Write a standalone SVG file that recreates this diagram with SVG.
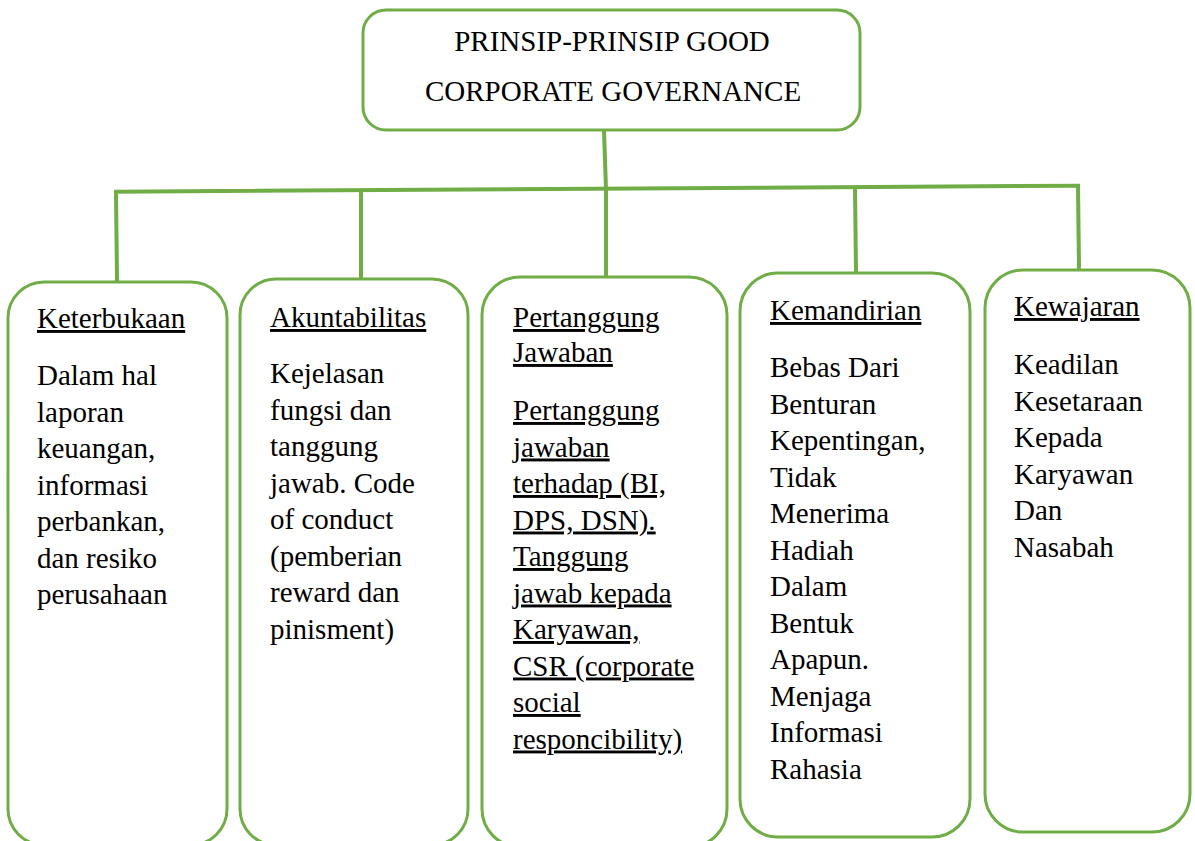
<svg xmlns="http://www.w3.org/2000/svg" width="1195" height="841" viewBox="0 0 1195 841">
  <style>
    .box { fill: #ffffff; stroke: #70AD47; stroke-width: 3; }
    .conn { fill: none; stroke: #70AD47; stroke-width: 4; stroke-linecap: square; }
    text { font-family: "Liberation Serif", "Times New Roman", serif; font-size: 29px; fill: #000000; }
    .u { text-decoration: underline; text-decoration-skip-ink: none; }
    .c { text-anchor: middle; }
  </style>
  <rect width="1195" height="841" fill="#ffffff"/>

  <g id="connectors">
    <path class="conn" d="M604 131 L606 189"/>
    <path class="conn" d="M116 191.7 L1078 185.7"/>
    <path class="conn" d="M116 192 L117 279"/>
    <path class="conn" d="M361 191 L361 278"/>
    <path class="conn" d="M606 189 L606 276"/>
    <path class="conn" d="M855 188 L856 272"/>
    <path class="conn" d="M1078 186 L1079 269"/>
  </g>

  <g id="root">
    <rect class="box" x="363" y="10" width="497" height="120" rx="23" ry="23"/>
    <text class="c" x="612" y="51">PRINSIP-PRINSIP GOOD</text>
    <text class="c" x="613" y="101">CORPORATE GOVERNANCE</text>
  </g>

  <g id="keterbukaan">
    <rect class="box" x="8" y="282" width="219" height="563" rx="36" ry="36"/>
    <text class="u" x="37" y="328">Keterbukaan</text>
    <text x="37" y="385">Dalam hal</text>
    <text x="37" y="421.5">laporan</text>
    <text x="37" y="458">keuangan,</text>
    <text x="37" y="494.5">informasi</text>
    <text x="37" y="531">perbankan,</text>
    <text x="37" y="567.5">dan resiko</text>
    <text x="37" y="604">perusahaan</text>
  </g>

  <g id="akuntabilitas">
    <rect class="box" x="240" y="279" width="228" height="566" rx="36" ry="36"/>
    <text class="u" x="270" y="327">Akuntabilitas</text>
    <text x="270" y="383">Kejelasan</text>
    <text x="270" y="419.5">fungsi dan</text>
    <text x="270" y="456">tanggung</text>
    <text x="270" y="492.5">jawab. Code</text>
    <text x="270" y="529">of conduct</text>
    <text x="270" y="565.5">(pemberian</text>
    <text x="270" y="602">reward dan</text>
    <text x="270" y="638.5">pinisment)</text>
  </g>

  <g id="pertanggung-jawaban">
    <rect class="box" x="482" y="277" width="245" height="570" rx="38" ry="38"/>
    <text class="u" x="513" y="327">Pertanggung</text>
    <text class="u" x="513" y="362">Jawaban</text>
    <text class="u" x="513" y="420">Pertanggung</text>
    <text class="u" x="513" y="456.5">jawaban</text>
    <text class="u" x="513" y="493">terhadap (BI,</text>
    <text class="u" x="513" y="529.5">DPS, DSN).</text>
    <text class="u" x="513" y="566">Tanggung</text>
    <text class="u" x="513" y="602.5">jawab kepada</text>
    <text class="u" x="513" y="639">Karyawan,</text>
    <text class="u" x="513" y="675.5">CSR (corporate</text>
    <text class="u" x="513" y="712">social</text>
    <text class="u" x="513" y="748.5">responcibility)</text>
  </g>

  <g id="kemandirian">
    <rect class="box" x="740" y="273" width="230" height="564" rx="38" ry="38"/>
    <text class="u" x="770" y="320">Kemandirian</text>
    <text x="770" y="377">Bebas Dari</text>
    <text x="770" y="413.5">Benturan</text>
    <text x="770" y="450">Kepentingan,</text>
    <text x="770" y="486.5">Tidak</text>
    <text x="770" y="523">Menerima</text>
    <text x="770" y="559.5">Hadiah</text>
    <text x="770" y="596">Dalam</text>
    <text x="770" y="632.5">Bentuk</text>
    <text x="770" y="669">Apapun.</text>
    <text x="770" y="705.5">Menjaga</text>
    <text x="770" y="742">Informasi</text>
    <text x="770" y="778.5">Rahasia</text>
  </g>

  <g id="kewajaran">
    <rect class="box" x="985" y="270" width="205" height="562" rx="38" ry="38"/>
    <text class="u" x="1014" y="316">Kewajaran</text>
    <text x="1014" y="374">Keadilan</text>
    <text x="1014" y="410.5">Kesetaraan</text>
    <text x="1014" y="447">Kepada</text>
    <text x="1014" y="483.5">Karyawan</text>
    <text x="1014" y="520">Dan</text>
    <text x="1014" y="556.5">Nasabah</text>
  </g>
</svg>
